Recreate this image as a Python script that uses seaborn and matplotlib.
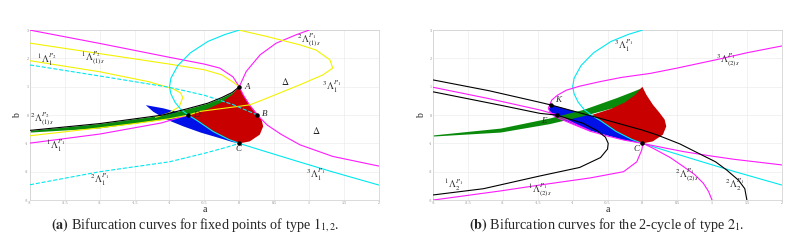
import matplotlib
matplotlib.use("Agg")
import matplotlib.pyplot as plt
import seaborn as sns

# ---- data (a, b coordinates) ----
a_ticks = [-3, -2.5, -2, -1.5, -1, -0.5, 0, 0.5, 1, 1.5, 2]
b_ticks = [-3, -2, -1, 0, 1, 2, 3]

# shared regions (same in both panels)
red_a = [-0.73, -0.45, -0.25, -0.1, 0, 0.057, 0.15, 0.25, 0.32, 0.343, 0.295, 0.15, 0,
         -0.15, -0.374, -0.6, -0.73]
red_b = [0, 0.22, 0.45, 0.72, 1.0, 0.72, 0.37, 0.07, -0.16, -0.4, -0.69, -0.93, -1.0,
         -0.86, -0.58, -0.2, 0]

cyan_a = [0, -0.2, -0.45, -0.7, -0.88, -0.98, -1.0, -0.98, -0.92, -0.83, -0.73, -0.6,
          -0.374, -0.15, 0, 0.38, 0.857, 1.33, 2.0]
cyan_b = [3, 2.85, 2.6, 2.2, 1.75, 1.3, 1.0, 0.75, 0.45, 0.18, 0.0, -0.2,
          -0.58, -0.86, -1.0, -1.29, -1.65, -2.0, -2.47]

# left panel (a)
l_green_a = [-3, -2, -1.1, -0.75, -0.45, -0.25, -0.1, 0]
l_green_top = [-0.54, -0.3, 0.0, 0.22, 0.42, 0.62, 0.8, 1.0]
l_green_bot = [-0.6, -0.45, -0.15, 0.0, 0.2, 0.44, 0.72, 1.0]

l_blue_a = [-1.34, -1.09, -0.73, -0.6, -0.374, -0.15, 0, -0.1, -0.3, -0.55, -0.8, -1.05, -1.234, -1.34]
l_blue_b = [0.35, 0.24, 0.0, -0.2, -0.58, -0.86, -1.0, -0.95, -0.8, -0.62, -0.4, -0.15, 0.12, 0.35]

l_mag_top_a = [-3, -2, -1, -0.5, -0.28, -0.09, 0]
l_mag_top_b = [3, 2.53, 2.04, 1.8, 1.66, 1.35, 1.0]
l_mag_up_a = [0, 0.1, 0.3, 0.53, 0.82, 1.0]
l_mag_up_b = [1.0, 1.54, 2.13, 2.54, 2.84, 3.0]
l_mag_dn_a = [0, 0.06, 0.14, 0.26, 0.4, 0.6, 0.87, 1.34, 2.0]
l_mag_dn_b = [1.0, 0.7, 0.38, 0.0, -0.35, -0.68, -1.05, -1.46, -1.8]
l_mag_low_a = [-3, -2, -1.12, -0.73]
l_mag_low_b = [-0.99, -0.67, -0.28, 0.0]

l_yel_top_a = [-3, -2, -1, -0.5, -0.25, -0.08, 0]
l_yel_top_b = [2.54, 2.17, 1.8, 1.6, 1.42, 1.15, 1.0]
l_yel_loop_a = [-3, -2, -1.3, -0.95, -0.84, -0.81, -0.86, -1.0, -1.2]
l_yel_loop_b = [1.92, 1.53, 1.18, 0.93, 0.78, 0.62, 0.3, 0.08, -0.08]
l_yel_low_a = [-3, -2, -1.5, -1, -0.73, -0.56, 0.15, 0.34, 0.6, 0.87, 1.2, 1.34, 1.3, 1.1, 0.87, 0.39, 0]
l_yel_low_b = [-0.73, -0.45, -0.3, -0.13, 0.0, 0.13, 0.36, 0.54, 0.8, 1.07, 1.42, 1.66, 1.95, 2.3, 2.48, 2.78, 3.0]

l_dash_up_a = [-3, -2, -1, -0.5, -0.1, 0.26]
l_dash_up_b = [1.77, 1.38, 0.98, 0.7, 0.38, 0.0]
l_dash_low_a = [-3, -2, -1, -0.5, -0.2, 0]
l_dash_low_b = [-2.46, -2.0, -1.65, -1.35, -1.15, -1.0]

l_pts_a = [0, 0.26, 0, -0.73]
l_pts_b = [1, 0, -1, 0]
l_pts_names = ["A", "B", "C", "D"]
l_pts_lab_a = [0.07, 0.33, -0.05, -0.66]
l_pts_lab_b = [1.0, 0.05, -1.2, 0.0]

l_labels = [r"${}^{1}\Lambda_{1}^{P_2}$", r"${}^{1}\Lambda_{(1)s}^{P_2}$", r"${}^{2}\Lambda_{(1)s}^{P_1}$",
            r"$\Delta$", r"${}^{3}\Lambda_{1}^{P_1}$", r"$\Delta$", r"${}^{2}\Lambda_{(1)s}^{P_2}$",
            r"${}^{1}\Lambda_{1}^{P_1}$", r"${}^{2}\Lambda_{1}^{P_1}$", r"${}^{3}\Lambda_{1}^{P_1}$"]
l_labels_a = [-2.76, -2.1, 1.0, 0.66, 1.33, 1.11, -2.83, -2.64, -2.0, 1.1]
l_labels_b = [1.96, 2.0, 2.65, 1.18, 1.02, -0.53, -0.15, -1.08, -2.29, -2.12]

# right panel (b)
r_green_a = [-3, -2.04, -1.33, -0.85, -0.37, -0.13, 0]
r_green_top = [-0.7, -0.46, -0.1, 0.2, 0.62, 0.85, 0.98]
r_green_bot = [-0.74, -0.6, -0.3, -0.02, 0.3, 0.62, 0.98]

r_blue_a = [-1.31, -1.0, -0.75, -0.6, -0.374, -0.15, 0, -0.27, -0.75, -1.25, -1.35, -1.31]
r_blue_b = [0.36, 0.15, 0.0, -0.2, -0.58, -0.86, -1.0, -0.88, -0.55, -0.06, 0.2, 0.36]

r_mag_big_a = [2, 1.5, 1.07, 0.5, 0.11, -0.3, -0.61, -0.9, -1.09, -1.22, -1.3, -1.35, -1.32,
               -1.25, -1.0, -0.75, -0.5, -0.27, 0, 0.3, 0.59, 1.0, 1.31, 2.0]
r_mag_big_b = [2.44, 2.2, 1.96, 1.66, 1.47, 1.33, 1.18, 1.02, 0.88, 0.7, 0.53, 0.25, 0.08,
               -0.06, -0.32, -0.57, -0.74, -0.88, -1.0, -1.15, -1.29, -1.45, -1.56, -1.76]
r_mag_left_a = [-3, -2.2, -1.47, -1.25, -1.0, -0.75]
r_mag_left_b = [0.98, 0.58, 0.18, 0.03, -0.27, -0.55]
r_mag_low_a = [-3, -2.04, -1.47, -0.75, -0.27, -0.08, -0.01, 0.01]
r_mag_low_b = [-3, -2.68, -2.47, -2.22, -2.0, -1.65, -1.24, -1.0]
r_mag_cusp_a = [0.01, 0.16, 0.4, 0.59, 0.75, 0.876, 0.95, 1.0]
r_mag_cusp_b = [-1.0, -1.18, -1.5, -1.82, -2.1, -2.41, -2.7, -3.0]

r_blk_top_a = [-3, -2.2, -1.47, -1.3, -0.6, 0, 0.21, 0.54, 0.83, 1.05, 1.21, 1.38, 1.47, 1.5]
r_blk_top_b = [1.24, 0.86, 0.45, 0.35, -0.12, -0.53, -0.7, -1.02, -1.38, -1.65, -1.94, -2.3, -2.6, -3.0]
r_blk_par_a = [-3, -2, -1.47, -1.23, -0.85, -0.65, -0.53, -0.49, -0.5, -0.6, -0.9, -1.47, -2.28, -3]
r_blk_par_b = [0.82, 0.33, 0.06, 0.0, -0.29, -0.55, -0.78, -1.0, -1.2, -1.5, -1.85, -2.15, -2.6, -2.82]

r_pts_a = [-1.31, -1.23, 0]
r_pts_b = [0.35, 0.0, -1]
r_pts_names = ["K", "E", "C"]
r_pts_lab_a = [-1.25, -1.45, -0.12]
r_pts_lab_b = [0.55, -0.2, -1.2]

r_labels = [r"${}^{3}\Lambda_{1}^{P_1}$", r"${}^{3}\Lambda_{(2)s}^{P_1}$", r"${}^{1}\Lambda_{2}^{P_1}$",
            r"${}^{1}\Lambda_{(2)s}^{P_1}$", r"${}^{2}\Lambda_{(2)s}^{P_1}$", r"${}^{2}\Lambda_{2}^{P_1}$"]
r_labels_a = [-0.27, 1.23, -2.71, -1.47, 0.64, 1.33]
r_labels_b = [2.44, 1.94, -2.47, -2.65, -2.12, -2.47]

MAG = "#ff1aff"
YEL = "#f2f200"
CYN = "#00e8f0"
GRN = "#0a8a0a"
RED = "#c80000"
BLU = "#0010e8"

sns.set_theme(style="whitegrid")
plt.rcParams["font.family"] = ["Liberation Serif", "DejaVu Serif"]
plt.rcParams["mathtext.fontset"] = "stix"


def curve(ax, a, b, color, ls="-"):
    sns.lineplot(x=a, y=b, sort=False, estimator=None, color=color,
                 linewidth=0.8, linestyle=ls, ax=ax, zorder=3)


def style_axes(ax):
    ax.set_xlim(-3, 2)
    ax.set_ylim(-3, 3)
    ax.set_xticks(a_ticks)
    ax.set_yticks(b_ticks)
    ax.set_xticklabels([str(t) for t in a_ticks])
    ax.set_yticklabels([str(t) for t in b_ticks])
    ax.tick_params(labelsize=3, colors="#888888", length=0, pad=1)
    ax.grid(True, color="#e8e8e8", linewidth=0.4)
    for s in ax.spines.values():
        s.set_color("#cccccc")
        s.set_linewidth(0.5)
    ax.set_xlabel("a", fontsize=7, labelpad=0)
    ax.set_ylabel("b", fontsize=7, labelpad=2)


fig = plt.figure(figsize=(7.98, 2.41), dpi=100)
ax1 = fig.add_axes([0.0376, 0.170, 0.437, 0.705])
ax2 = fig.add_axes([0.543, 0.170, 0.4366, 0.705])

# ---- panel (a) ----
ax1.fill(l_blue_a, l_blue_b, color=BLU, lw=0, zorder=1)
ax1.fill_between(l_green_a, l_green_bot, l_green_top, color=GRN, lw=0, zorder=1.5)
ax1.fill(red_a, red_b, color=RED, lw=0, zorder=2)
curve(ax1, l_mag_top_a, l_mag_top_b, MAG)
curve(ax1, l_mag_up_a, l_mag_up_b, MAG)
curve(ax1, l_mag_dn_a, l_mag_dn_b, MAG)
curve(ax1, l_mag_low_a, l_mag_low_b, MAG)
curve(ax1, l_yel_top_a, l_yel_top_b, YEL)
curve(ax1, l_yel_loop_a, l_yel_loop_b, YEL)
curve(ax1, l_yel_low_a, l_yel_low_b, YEL)
curve(ax1, cyan_a, cyan_b, CYN)
curve(ax1, l_dash_up_a, l_dash_up_b, CYN, "--")
curve(ax1, l_dash_low_a, l_dash_low_b, CYN, "--")
curve(ax1, l_green_a, l_green_top, "black")
ax1.scatter(l_pts_a, l_pts_b, s=5, color="black", zorder=5)
for n, x, y in zip(l_pts_names, l_pts_lab_a, l_pts_lab_b):
    ax1.text(x, y, n, fontsize=6.5, style="italic", va="center", zorder=6)
for t, x, y in zip(l_labels, l_labels_a, l_labels_b):
    ax1.text(x, y, t, fontsize=7, ha="center", va="center", zorder=6)
style_axes(ax1)

# ---- panel (b) ----
ax2.fill(r_blue_a, r_blue_b, color=BLU, lw=0, zorder=1)
ax2.fill_between(r_green_a, r_green_bot, r_green_top, color=GRN, lw=0, zorder=1.5)
ax2.fill(red_a, red_b, color=RED, lw=0, zorder=2)
curve(ax2, cyan_a, cyan_b, CYN)
curve(ax2, r_mag_big_a, r_mag_big_b, MAG)
curve(ax2, r_mag_left_a, r_mag_left_b, MAG)
curve(ax2, r_mag_low_a, r_mag_low_b, MAG)
curve(ax2, r_mag_cusp_a, r_mag_cusp_b, MAG)
curve(ax2, r_blk_top_a, r_blk_top_b, "black")
curve(ax2, r_blk_par_a, r_blk_par_b, "black")
ax2.scatter(r_pts_a, r_pts_b, s=5, color="black", zorder=5)
for n, x, y in zip(r_pts_names, r_pts_lab_a, r_pts_lab_b):
    ax2.text(x, y, n, fontsize=6.5, style="italic", va="center", zorder=6)
for t, x, y in zip(r_labels, r_labels_a, r_labels_b):
    ax2.text(x, y, t, fontsize=7, ha="center", va="center", zorder=6)
style_axes(ax2)

fig.text(0.245, 0.066, r"$\mathbf{(a)}$ Bifurcation curves for fixed points of type $1_{1,2}$.",
         ha="center", va="center", fontsize=10.2)
fig.text(0.76, 0.066, r"$\mathbf{(b)}$ Bifurcation curves for the 2-cycle of type $2_{1}$.",
         ha="center", va="center", fontsize=10.2)

fig.savefig("out.png", dpi=100)
